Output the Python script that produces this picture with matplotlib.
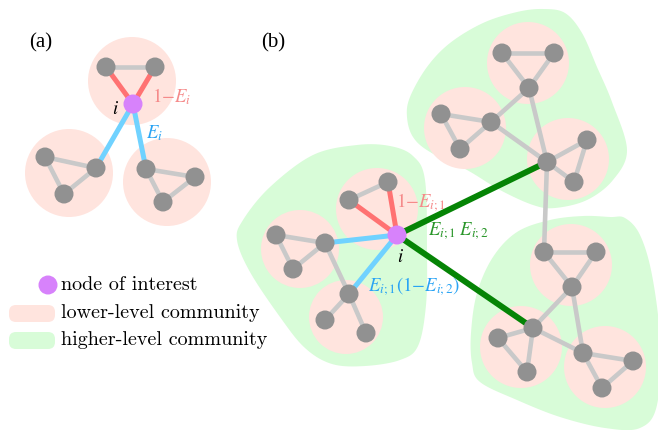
import matplotlib
matplotlib.use("Agg")
import matplotlib.pyplot as plt
import numpy as np
from matplotlib.patches import Circle, Polygon, FancyBboxPatch

plt.rcParams['mathtext.fontset'] = 'stix'

# ---------------- panel (a) ----------------
# node 0 is the node of interest i
a_nodes = [(133, 104), (106, 67), (155, 67), (45, 157), (96, 168), (64, 194),
           (146, 169), (195, 177), (163, 202)]
a_communities = [(132, 81), (69, 173), (167, 182)]
a_comm_r = [44, 44, 44]
a_gray_edges = [(1, 2), (3, 4), (3, 5), (4, 5), (6, 7), (6, 8), (7, 8)]
a_red_edges = [(0, 1), (0, 2)]
a_blue_edges = [(0, 4), (0, 6)]

# ---------------- panel (b) ----------------
b_nodes = [(397, 235),
           (349, 200), (388, 182),
           (276, 235), (325, 243), (293, 269),
           (349, 294), (325, 320), (366, 333),
           (502, 53), (554, 53), (529, 88),
           (441, 114), (491, 122), (460, 149),
           (547, 162), (587, 140), (574, 182),
           (544, 252), (596, 252), (572, 287),
           (533, 328), (498, 338), (527, 372),
           (583, 353), (633, 361), (602, 388)]
b_communities = [(377, 209), (300, 249), (346, 317),
                 (528, 63), (465, 128), (568, 159),
                 (571, 265), (521, 347), (605, 367)]
b_comm_r = [41, 39, 37, 41, 41, 41, 41, 41, 41]
b_gray_edges = [(1, 2), (3, 4), (3, 5), (4, 5), (4, 6), (6, 7), (6, 8),
                (9, 10), (9, 11), (10, 11), (12, 13), (12, 14), (13, 14),
                (11, 13), (15, 16), (15, 17), (16, 17), (13, 15), (11, 15),
                (15, 18),
                (18, 19), (18, 20), (19, 20), (21, 22), (22, 23), (21, 23),
                (24, 25), (24, 26), (25, 26), (20, 21), (21, 24), (20, 24)]
b_red_edges = [(0, 1), (0, 2)]
b_blue_edges = [(0, 4), (0, 6)]
b_green_edges = [(0, 15), (0, 21)]

# outline points of the higher-level communities (smoothed below)
blob_left = [(357, 145), (313, 155), (270, 187), (243, 220), (237, 240), (250, 272),
             (280, 317), (305, 348), (332, 364), (365, 366), (400, 360), (418, 346),
             (426, 305), (427, 250), (425, 180), (413, 156), (390, 146)]
blob_top = [(543, 9), (517, 12), (483, 23), (450, 43), (427, 67), (410, 97),
            (407, 117), (413, 137), (430, 152), (467, 170), (500, 190), (533, 205),
            (555, 208), (587, 200), (613, 180), (627, 150), (612, 102), (597, 67),
            (582, 33), (565, 13)]
blob_bottom = [(610, 217), (583, 216), (550, 220), (517, 232), (493, 257), (477, 293),
               (471, 333), (472, 363), (480, 382), (517, 400), (560, 417), (605, 428),
               (640, 428), (657, 405), (660, 340), (652, 275), (640, 235), (625, 218)]

legend_labels = ['node of interest', 'lower-level community', 'higher-level community']

# colours
pink = '#ffe4de'
green_bg = '#d8fcd8'
node_gray = '#919191'
edge_gray = '#c9c9c9'
red = '#ff7272'
blue = '#70d2ff'
dark_green = '#058405'
purple = '#d782fb'


def smooth_closed(pts, n=16):
    # closed Catmull-Rom curve through the outline points
    P = np.array(pts, float)
    N = len(P)
    t = np.linspace(0, 1, n, endpoint=False)[:, None]
    out = []
    for k in range(N):
        p0, p1, p2, p3 = P[k - 1], P[k], P[(k + 1) % N], P[(k + 2) % N]
        out.append(0.5 * (2 * p1 + (-p0 + p2) * t + (2 * p0 - 5 * p1 + 4 * p2 - p3) * t ** 2
                          + (-p0 + 3 * p1 - 3 * p2 + p3) * t ** 3))
    return np.vstack(out)


fig = plt.figure(figsize=(6.58, 4.30), dpi=100)
ax = fig.add_axes([0, 0, 1, 1])
ax.set_xlim(0, 658)
ax.set_ylim(430, 0)
ax.axis('off')

# green blobs
for pts in [blob_left, blob_top, blob_bottom]:
    ax.add_patch(Polygon(smooth_closed(pts), closed=True, facecolor=green_bg,
                         edgecolor='none', zorder=1))

# pink circles
for (cx, cy), r in zip(a_communities + b_communities, a_comm_r + b_comm_r):
    ax.add_patch(Circle((cx, cy), r, facecolor=pink, edgecolor='none', zorder=2))


def draw_edges(nodes, edges, color, lw):
    for u, v in edges:
        ax.plot([nodes[u][0], nodes[v][0]], [nodes[u][1], nodes[v][1]],
                color=color, lw=lw, solid_capstyle='butt', zorder=3)


draw_edges(a_nodes, a_gray_edges, edge_gray, 3.3)
draw_edges(a_nodes, a_red_edges, red, 3.6)
draw_edges(a_nodes, a_blue_edges, blue, 3.6)
draw_edges(b_nodes, b_gray_edges, edge_gray, 3.3)
draw_edges(b_nodes, b_red_edges, red, 3.6)
draw_edges(b_nodes, b_blue_edges, blue, 3.6)
draw_edges(b_nodes, b_green_edges, dark_green, 4.3)

# nodes
for nodes in [a_nodes, b_nodes]:
    for k, (x, y) in enumerate(nodes):
        ax.add_patch(Circle((x, y), 9.5, facecolor=purple if k == 0 else node_gray,
                            edgecolor='none', zorder=4))

# panel labels
ax.text(29, 43, '(a)', fontsize=15, family='Liberation Serif', va='center', ha='left')
ax.text(261, 43, '(b)', fontsize=15, family='Liberation Serif', va='center', ha='left')

# edge labels
fs = 13.5
ax.text(112, 108, r'$i$', fontsize=fs, color='black', va='center', ha='left')
ax.text(152, 102, r'$1{-}E_i$', fontsize=fs, color='#f58a8a', va='baseline')
ax.text(146, 138, r'$E_i$', fontsize=fs, color='#2aa4f4', va='baseline')

ax.text(396, 207, r'$1{-}E_{i;1}$', fontsize=fs, color='#f58a8a', va='baseline')
ax.text(428, 235, r'$E_{i;1}\;E_{i;2}$', fontsize=fs, color='#2a962a', va='baseline')
ax.text(400, 256, r'$i$', fontsize=fs, color='black', va='center', ha='center')
ax.text(368, 291, r'$E_{i;1}(1{-}E_{i;2})$', fontsize=fs, color='#2aa4f4', va='baseline')

# legend
ax.add_patch(Circle((48, 285), 9.5, facecolor=purple, edgecolor='none', zorder=4))
ax.add_patch(FancyBboxPatch((9, 305), 46, 17, boxstyle='round,pad=0,rounding_size=7',
                            facecolor=pink, edgecolor='none', zorder=4))
ax.add_patch(FancyBboxPatch((9, 332), 46, 17, boxstyle='round,pad=0,rounding_size=7',
                            facecolor=green_bg, edgecolor='none', zorder=4))
for k, lab in enumerate(legend_labels):
    ax.text(61, 285 + 27.5 * k, lab, fontsize=14.5, family='cmr10', va='center', ha='left')

fig.savefig('out.png', dpi=100)
